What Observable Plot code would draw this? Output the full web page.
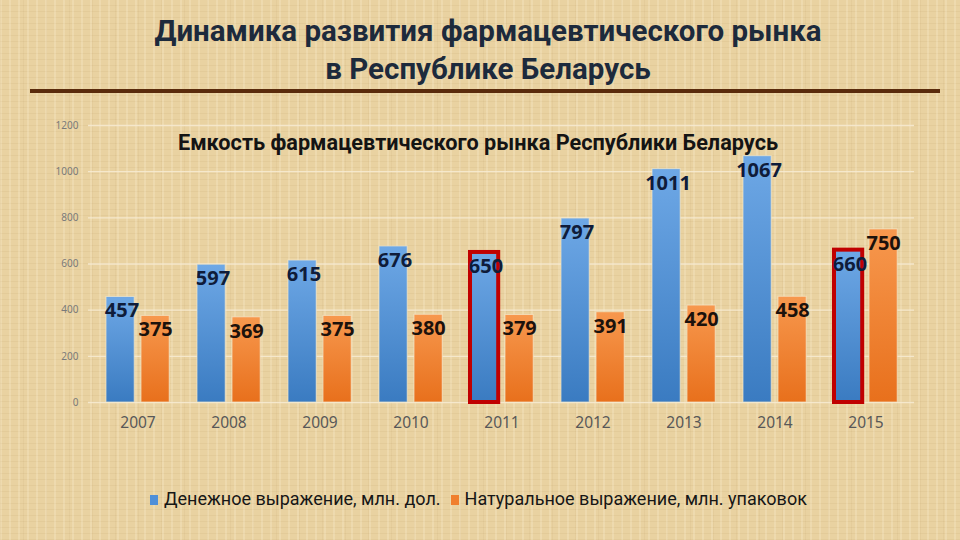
<!DOCTYPE html>
<html>
<head>
<meta charset="utf-8">
<script src="https://cdn.jsdelivr.net/npm/d3@7"></script>
<script src="https://cdn.jsdelivr.net/npm/@observablehq/plot@0.6"></script>
<style>
html, body { margin: 0; padding: 0; }
body { width: 960px; height: 540px; overflow: hidden; font-family: Roboto, "Noto Sans", sans-serif; }
#page {
  position: relative; width: 960px; height: 540px; overflow: hidden;
  background-color: #e9d2a1;
  background-image:
    repeating-linear-gradient(90deg, rgba(255,246,222,0.22) 0 2px, rgba(0,0,0,0) 2px 9px),
    repeating-linear-gradient(0deg, rgba(150,110,50,0.07) 0 1px, rgba(0,0,0,0) 1px 6px),
    repeating-linear-gradient(90deg, rgba(150,110,50,0.06) 0 1px, rgba(0,0,0,0) 1px 23px);
}
#title {
  position: absolute; left: 0; top: 12px; width: 976px; text-align: center;
  font-size: 29.5px; font-weight: 700; line-height: 38px; color: #1d2a3c;
}
#rule { position: absolute; left: 30px; top: 89px; width: 910px; height: 4px; background: #5a2b0c; }
#subtitle {
  position: absolute; left: 0; top: 130px; width: 956px; text-align: center;
  font-size: 21.7px; font-weight: 700; color: #141414;
}
#chart { position: absolute; left: 0; top: 100px; }
#legend {
  position: absolute; left: 150px; top: 488px; font-size: 18px; color: #161616; white-space: nowrap;
}
#legend span.sw { display: inline-block; width: 8px; height: 10px; margin-right: 6px; vertical-align: 0px; }
#legend span.item { margin-right: 10px; }
</style>
</head>
<body>
<div id="page">
  <div id="title">Динамика развития фармацевтического рынка<br>в Республике Беларусь</div>
  <div id="rule"></div>
  <div id="subtitle">Емкость фармацевтического рынка Республики Беларусь</div>
  <div id="chart"></div>
  <div id="legend"></div>
</div>
<script>
// ---- data ----
const years = ["2007", "2008", "2009", "2010", "2011", "2012", "2013", "2014", "2015"];
const moneyValues = [457, 597, 615, 676, 650, 797, 1011, 1067, 660];
const naturalValues = [375, 369, 375, 380, 379, 391, 420, 458, 750];
const highlightedYears = ["2011", "2015"];
const yTicks = [0, 200, 400, 600, 800, 1000, 1200];
const seriesNames = ["Денежное выражение, млн. дол.", "Натуральное выражение, млн. упаковок"];
const seriesColors = ["#4f8fd8", "#f07f2e"];

const rows = years.map((year, i) => ({ year, money: moneyValues[i], natural: naturalValues[i] }));

const gradients = () => {
  const ns = "http://www.w3.org/2000/svg";
  const defs = document.createElementNS(ns, "defs");
  defs.innerHTML =
    '<linearGradient id="gBlue" x1="0" y1="0" x2="0" y2="1">' +
      '<stop offset="0" stop-color="#6ea8e6"/><stop offset="1" stop-color="#3a7bc1"/></linearGradient>' +
    '<linearGradient id="gOrange" x1="0" y1="0" x2="0" y2="1">' +
      '<stop offset="0" stop-color="#f7984e"/><stop offset="1" stop-color="#e8701c"/></linearGradient>';
  return defs;
};

const blueInset = { insetLeft: 14, insetRight: 48.8 };
const orangeInset = { insetLeft: 49, insetRight: 13.8 };

const chart = Plot.plot({
  width: 960,
  height: 340,
  marginTop: 25,
  marginBottom: 38,
  marginLeft: 88,
  marginRight: 46,
  style: { background: "transparent", overflow: "visible" },
  x: { domain: years, padding: 0 },
  y: { domain: [0, 1200] },
  marks: [
    gradients,
    Plot.ruleY(yTicks, { stroke: "#f6ead0", strokeWidth: 1.3, strokeOpacity: 0.9 }),
    Plot.barY(rows, { x: "year", y: "money", fill: "url(#gBlue)", stroke: "#f4e8cc", strokeWidth: 1, strokeOpacity: 0.7, ...blueInset }),
    Plot.barY(rows, { x: "year", y: "natural", fill: "url(#gOrange)", stroke: "#f4e8cc", strokeWidth: 1, strokeOpacity: 0.7, ...orangeInset }),
    Plot.barY(rows.filter(d => highlightedYears.includes(d.year)), {
      x: "year", y: "money", fill: "none", stroke: "#c00000", strokeWidth: 4, ...blueInset
    }),
    Plot.text(rows, { x: "year", y: "money", text: d => String(d.money), dx: -16, dy: 14,
      fontSize: 20, fontWeight: "bold", fill: "#0f1c3a" }),
    Plot.text(rows, { x: "year", y: "natural", text: d => String(d.natural), dx: 17.6, dy: 14,
      fontSize: 20, fontWeight: "bold", fill: "#1c120c" }),
    Plot.axisX({ tickSize: 0, tickPadding: 14, fontSize: 15.5, fill: "#585858", label: null }),
    Plot.axisY({ ticks: yTicks, tickSize: 0, tickPadding: 10, fontSize: 10, fill: "#7a7a7a", label: null, tickFormat: d => String(d) })
  ]
});
document.getElementById("chart").appendChild(chart);

const legend = document.getElementById("legend");
seriesNames.forEach((name, i) => {
  const item = document.createElement("span");
  item.className = "item";
  const sw = document.createElement("span");
  sw.className = "sw";
  sw.style.background = seriesColors[i];
  item.appendChild(sw);
  item.appendChild(document.createTextNode(name));
  legend.appendChild(item);
});
</script>
</body>
</html>
